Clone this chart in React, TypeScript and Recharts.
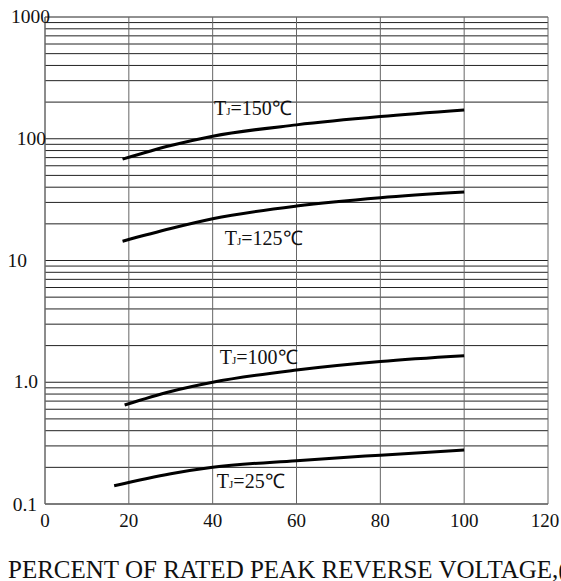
import React from 'react';
import {
  CartesianGrid,
  Line,
  LineChart,
  ReferenceDot,
  XAxis,
  YAxis,
} from 'recharts';

// reverse current vs percent of rated voltage, one curve per junction temp
const t150 = [
  { x: 18.5, y: 68 },
  { x: 30, y: 88 },
  { x: 40, y: 105 },
  { x: 60, y: 130 },
  { x: 80, y: 152 },
  { x: 100, y: 172 },
];
const t125 = [
  { x: 18.5, y: 14.4 },
  { x: 30, y: 18.3 },
  { x: 40, y: 22 },
  { x: 60, y: 28 },
  { x: 80, y: 32.8 },
  { x: 100, y: 36.5 },
];
const t100 = [
  { x: 19, y: 0.65 },
  { x: 30, y: 0.84 },
  { x: 40, y: 1.0 },
  { x: 60, y: 1.26 },
  { x: 80, y: 1.48 },
  { x: 100, y: 1.65 },
];
const t25 = [
  { x: 16.5, y: 0.141 },
  { x: 30, y: 0.177 },
  { x: 40, y: 0.2 },
  { x: 60, y: 0.227 },
  { x: 80, y: 0.252 },
  { x: 100, y: 0.278 },
];

const curveLabels = [
  { temp: '150', x: 40.3, y: 178 },
  { temp: '125', x: 42.9, y: 15.2 },
  { temp: '100', x: 41.7, y: 1.62 },
  { temp: '25', x: 41.0, y: 0.1545 },
];

const xTicks = [0, 20, 40, 60, 80, 100, 120];
const decades = [0.1, 1, 10, 100];
const yLabels: Record<string, string> = {
  '0.1': '0.1',
  '1': '1.0',
  '10': '10',
  '100': '100',
  '1000': '1000',
};
// log minor grid: 1..9 in each decade, plus the top
const yTicks = [
  ...decades.flatMap((d) => [1, 2, 3, 4, 5, 6, 7, 8, 9].map((m) => +(d * m).toPrecision(3))),
  1000,
];

const FONT = '"Liberation Serif", "Times New Roman", serif';
const INK = '#111';
const AXIS_LEFT = 45;

// right edge of each y label, relative to the axis (the source is a bit uneven)
const yLabelShift: Record<string, number> = {
  '0.1': -8,
  '1': -7,
  '10': -18,
  '100': 1,
  '1000': 5,
};

function YTick(props: any) {
  const { y, payload } = props;
  const key = String(payload.value);
  const label = yLabels[key];
  if (!label) return <g />;
  return (
    <text
      x={AXIS_LEFT + yLabelShift[key]}
      y={y + (key === '0.1' ? 7 : 6)}
      textAnchor="end"
      fontFamily={FONT}
      fontSize={19.5}
      fill={INK}
    >
      {label}
    </text>
  );
}

function XTick(props: any) {
  const { x, payload } = props;
  const dx = payload.value === 120 ? -3 : 0;
  return (
    <text x={x + dx} y={527} textAnchor="middle" fontFamily={FONT} fontSize={19} fill={INK}>
      {payload.value}
    </text>
  );
}

function CurveLabel({ viewBox, temp }: any) {
  const { x, y } = viewBox;
  return (
    <text x={x} y={y + 7} fontFamily={FONT} fontSize={20} fill={INK}>
      T<tspan fontSize={11}>J</tspan>={temp}℃
    </text>
  );
}

function Title() {
  return (
    <text x={8} y={578} fontFamily={FONT} fontSize={25} fill={INK}>
      PERCENT OF RATED PEAK REVERSE VOLTAGE,(%)
    </text>
  );
}

export default function App() {
  return (
    <div style={{ position: 'absolute', left: 0, top: 0, width: 561, height: 581, overflow: 'hidden', background: '#fff' }}>
      <LineChart
        width={561}
        height={581}
        margin={{ top: 17, right: 13, bottom: 47, left: 0 }}
      >
        <CartesianGrid vertical={false} stroke="#222" strokeWidth={1} />
        <CartesianGrid horizontal={false} stroke="#666" strokeWidth={1} />
        <XAxis
          type="number"
          dataKey="x"
          domain={[0, 120]}
          ticks={xTicks}
          interval={0}
          height={30}
          tickLine={false}
          axisLine={{ stroke: '#666' }}
          tick={(p: any) => <XTick {...p} />}
          label={<Title />}
        />
        <YAxis
          type="number"
          dataKey="y"
          scale="log"
          domain={[0.1, 1000]}
          ticks={yTicks}
          interval={0}
          allowDataOverflow
          width={AXIS_LEFT}
          tickLine={false}
          axisLine={{ stroke: '#666' }}
          tick={(p: any) => <YTick {...p} />}
        />
        {[t150, t125, t100, t25].map((d, i) => (
          <Line
            key={i}
            data={d}
            dataKey="y"
            type="monotone"
            stroke="#000"
            strokeWidth={3}
            dot={false}
            isAnimationActive={false}
          />
        ))}
        {curveLabels.map((l) => (
          <ReferenceDot
            key={l.temp}
            x={l.x}
            y={l.y}
            r={0}
            fill="none"
            stroke="none"
            ifOverflow="visible"
            label={<CurveLabel temp={l.temp} />}
          />
        ))}
      </LineChart>
    </div>
  );
}
